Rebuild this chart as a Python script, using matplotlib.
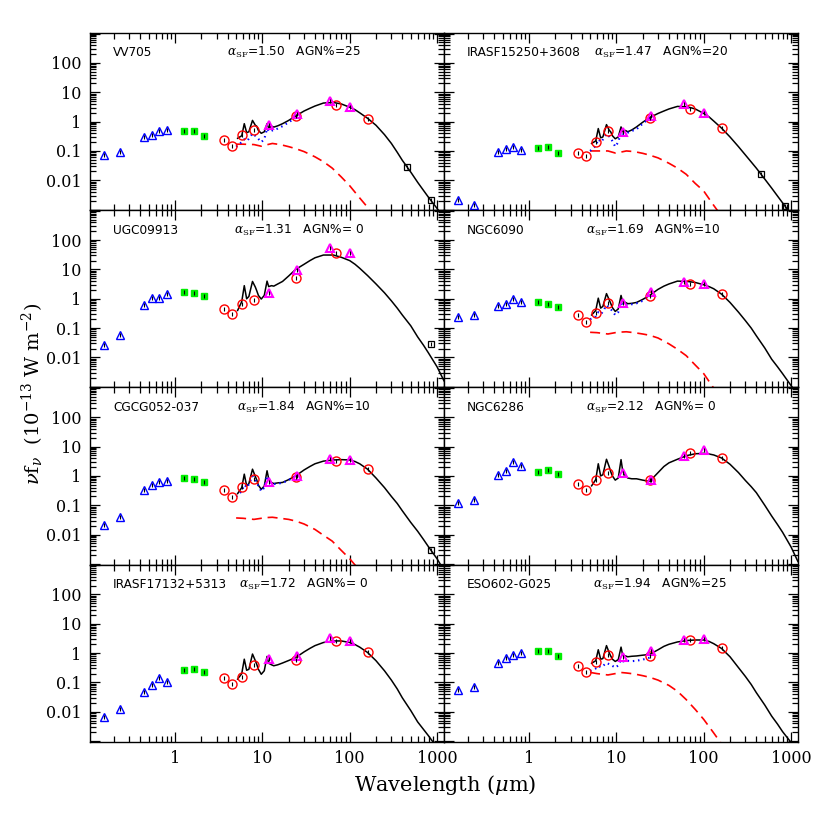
import numpy as np
import matplotlib
matplotlib.use('Agg')
import matplotlib.pyplot as plt
from matplotlib.ticker import LogLocator, FuncFormatter, NullFormatter

plt.rcParams['font.family'] = 'DejaVu Serif'
plt.rcParams['mathtext.fontset'] = 'dejavuserif'

nan = np.nan

# panels, row by row (left, right)
galaxies = ['VV705', 'IRASF15250+3608', 'UGC09913', 'NGC6090',
            'CGCG052-037', 'NGC6286', 'IRASF17132+5313', 'ESO602-G025']
alpha_sf = ['1.50', '1.47', '1.31', '1.69', '1.84', '2.12', '1.72', '1.94']
agn_pct = ['25', '20', ' 0', '10', '10', ' 0', ' 0', '25']
alpha_xpos = [0.387, 0.425, 0.408, 0.40, 0.416, 0.40, 0.42, 0.42]

# photometric bands (micron)
wl_uvopt = [0.153, 0.231, 0.445, 0.551, 0.658, 0.806]
wl_nir = [1.25, 1.65, 2.17]
wl_spitzer = [3.6, 4.5, 5.8, 8.0, 24, 70, 160]
wl_iras = [12, 25, 60, 100]
wl_submm = [450, 850]

uvopt_flux = [
    [0.071, 0.093, 0.30, 0.36, 0.48, 0.50],
    [0.0021, 0.0014, 0.089, 0.115, 0.14, 0.105],
    [0.027, 0.059, 0.63, 1.07, 1.05, 1.45],
    [0.235, 0.28, 0.56, 0.64, 0.95, 0.77],
    [0.022, 0.039, 0.33, 0.48, 0.60, 0.69],
    [0.115, 0.148, 1.11, 1.48, 3.1, 2.1],
    [0.0068, 0.0126, 0.049, 0.082, 0.14, 0.104],
    [0.054, 0.072, 0.45, 0.66, 0.87, 0.98],
]
nir_flux = [
    [0.48, 0.48, 0.33],
    [0.13, 0.135, 0.085],
    [1.74, 1.60, 1.26],
    [0.75, 0.66, 0.52],
    [0.85, 0.80, 0.60],
    [1.38, 1.55, 1.20],
    [0.27, 0.28, 0.22],
    [1.20, 1.17, 0.79],
]
spitzer_flux = [
    [0.23, 0.148, 0.34, 0.50, 1.55, 3.8, 1.26],
    [0.085, 0.068, 0.20, 0.48, 1.37, 2.6, 0.60],
    [0.44, 0.30, 0.69, 0.93, 5.1, 35, nan],
    [0.28, 0.16, 0.33, 0.71, 1.23, 3.2, 1.44],
    [0.33, 0.19, 0.42, 0.81, 0.95, 3.3, 1.7],
    [0.55, 0.32, 0.71, 1.3, 0.72, 6.0, 4.2],
    [0.14, 0.091, 0.155, 0.39, 0.59, 2.6, 1.05],
    [0.36, 0.23, 0.50, 0.85, 0.77, 2.7, 1.44],
]
iras_flux = [
    [0.75, 1.78, 5.0, 3.1],
    [0.45, 1.6, 3.9, 1.95],
    [1.58, 9.8, 56, 37],
    [0.71, 1.7, 3.7, 3.3],
    [0.60, 1.0, 3.7, 3.5],
    [1.3, 0.75, 4.9, 7.8],
    [0.62, 0.80, 3.3, 2.5],
    [0.71, 1.2, 2.8, 3.0],
]
submm_flux = [
    [0.029, 0.0021],
    [0.017, 0.0013],
    [nan, 0.029],
    [nan, nan],
    [nan, 0.0031],
    [nan, nan],
    [nan, nan],
    [nan, nan],
]

# best-fit total model
wl_model = [5.2, 5.8, 6.2, 6.6, 7.0, 7.7, 8.3, 8.6, 9.0, 9.7, 10.5, 11.3,
            11.8, 12.7, 13.5, 15, 17, 20, 24, 30, 35, 40, 50, 65, 80, 100,
            115, 130, 160, 200, 250, 300, 350, 400, 500, 600, 700, 800,
            1000, 1200]
model_total = [
    [0.27, 0.33, 0.85, 0.42, 0.45, 1.1, 0.75, 0.7, 0.5, 0.4, 0.45, 0.85,
     0.6, 0.7, 0.65, 0.72, 0.85, 1.1, 1.55, 2.3, 2.85, 3.4, 4.3, 4.5, 4.0, 3.1,
     2.55, 2.0, 1.3, 0.75, 0.36, 0.18, 0.09, 0.048, 0.019, 0.0085, 0.0045,
     0.0026, 0.0011, 0.0005],
    [0.18, 0.22, 0.58, 0.28, 0.3, 0.79, 0.5, 0.45, 0.33, 0.26, 0.3, 0.66,
     0.45, 0.5, 0.45, 0.52, 0.66, 0.95, 1.37, 1.9, 2.3, 2.7, 3.3, 3.2, 2.7, 1.9,
     1.45, 1.05, 0.6, 0.3, 0.14, 0.073, 0.042, 0.026, 0.011, 0.0054, 0.0029,
     0.0017, 0.0007, 0.0003],
    [0.4, 0.8, 2.8, 1.0, 1.2, 3.9, 2.5, 1.9, 1.3, 0.98, 1.3, 4.0,
     2.6, 2.8, 2.7, 3.2, 3.9, 6.0, 10, 15, 20, 25, 31, 31, 26, 20,
     15, 11, 6.2, 3.2, 1.6, 0.85, 0.48, 0.28, 0.12, 0.05, 0.026,
     0.014, 0.0048, 0.0016],
    [0.28, 0.4, 1.05, 0.48, 0.55, 1.5, 0.9, 0.7, 0.5, 0.37, 0.45, 1.3,
     0.8, 0.75, 0.68, 0.7, 0.75, 0.95, 1.3, 2.1, 2.7, 3.2, 4.0, 3.9, 3.6, 3.0,
     2.6, 2.2, 1.44, 0.75, 0.35, 0.18, 0.1, 0.055, 0.021, 0.0087, 0.0048,
     0.0028, 0.0011, 0.0005],
    [0.25, 0.4, 1.15, 0.46, 0.55, 1.7, 0.95, 0.74, 0.48, 0.35, 0.45, 1.5,
     0.8, 0.6, 0.55, 0.58, 0.6, 0.75, 1.0, 1.6, 2.1, 2.6, 3.2, 3.5, 3.6, 3.5,
     3.1, 2.6, 1.7, 0.85, 0.4, 0.2, 0.115, 0.065, 0.026, 0.013, 0.0068,
     0.0038, 0.0015, 0.0006],
    [0.46, 0.75, 2.6, 1.0, 1.1, 3.7, 2.0, 1.4, 1.0, 0.72, 0.85, 3.6,
     1.5, 1.0, 0.85, 0.8, 0.8, 0.72, 0.65, 1.3, 2.1, 2.8, 3.7, 5.0, 5.7, 5.9,
     5.6, 5.2, 4.1, 2.5, 1.3, 0.7, 0.43, 0.27, 0.1, 0.043, 0.022,
     0.012, 0.0038, 0.0012],
    [0.13, 0.2, 0.62, 0.26, 0.28, 0.93, 0.55, 0.42, 0.28, 0.19, 0.25, 0.77,
     0.45, 0.4, 0.37, 0.4, 0.46, 0.56, 0.7, 1.1, 1.45, 1.8, 2.3, 2.6, 2.6, 2.3,
     1.95, 1.6, 1.05, 0.55, 0.25, 0.12, 0.06, 0.03, 0.011, 0.0045, 0.0025,
     0.0015, 0.0006, 0.0002],
    [0.45, 0.55, 1.3, 0.62, 0.65, 1.8, 1.0, 0.8, 0.62, 0.52, 0.6, 1.6,
     0.85, 0.8, 0.75, 0.78, 0.8, 0.85, 0.9, 1.3, 1.7, 2.0, 2.4, 2.7, 2.8, 2.8,
     2.5, 2.1, 1.44, 0.75, 0.32, 0.16, 0.085, 0.045, 0.017, 0.0071, 0.0038,
     0.0021, 0.0009, 0.0004],
]

# AGN component (red dashed), None where AGN% = 0
wl_agn = [5.0, 6, 8, 9.7, 11, 13, 16, 20, 24, 30, 40, 50, 63, 80, 100,
          130, 160, 200]
model_agn = [
    [0.17, 0.17, 0.165, 0.145, 0.16, 0.18, 0.165, 0.14, 0.12, 0.095, 0.063,
     0.043, 0.026, 0.013, 0.0065, 0.0025, 0.0012, 0.0004],
    [0.1, 0.1, 0.1, 0.085, 0.09, 0.1, 0.095, 0.083, 0.072, 0.058, 0.038,
     0.026, 0.016, 0.0078, 0.0043, 0.0014, 0.0006, 0.0002],
    None,
    [0.072, 0.07, 0.063, 0.07, 0.073, 0.075, 0.07, 0.063, 0.057, 0.046, 0.029,
     0.019, 0.0115, 0.0055, 0.0028, 0.0009, 0.0004, 0.0001],
    [0.037, 0.036, 0.033, 0.036, 0.038, 0.039, 0.036, 0.033, 0.029, 0.023,
     0.015, 0.0095, 0.006, 0.0029, 0.0015, 0.0006, 0.0003, 0.0001],
    None,
    None,
    [0.22, 0.2, 0.18, 0.2, 0.22, 0.21, 0.195, 0.17, 0.15, 0.12, 0.079,
     0.05, 0.026, 0.012, 0.0055, 0.0019, 0.0008, 0.0002],
]

# star-forming component (blue dotted)
wl_sf = [5.0, 5.8, 6.2, 6.7, 7.7, 8.6, 9.7, 10.5, 11.3, 12.0, 13.0, 15, 17,
         20, 24]
model_sf = [
    [0.14, 0.2, 0.25, 0.22, 0.39, 0.3, 0.2, 0.25, 0.58, 0.45, 0.5, 0.58,
     0.7, 0.95, 1.35],
    [0.1, 0.15, 0.25, 0.2, 0.38, 0.28, 0.14, 0.2, 0.45, 0.38, 0.4, 0.48,
     0.55, 0.85, 1.3],
    None,
    [0.2, 0.25, 0.35, 0.3, 0.6, 0.45, 0.28, 0.35, 0.7, 0.6, 0.62, 0.65,
     0.7, 0.85, 1.25],
    [0.2, 0.3, 0.5, 0.4, 1.0, 0.6, 0.3, 0.4, 1.0, 0.6, 0.52, 0.55,
     0.58, 0.72, 1.0],
    None,
    None,
    [0.25, 0.3, 0.36, 0.33, 0.46, 0.4, 0.32, 0.38, 0.6, 0.52, 0.55, 0.53,
     0.55, 0.6, 0.7],
]

fig, axes = plt.subplots(4, 2, figsize=(8.3, 8.3), dpi=100,
                         sharex=True, sharey=True)
fig.subplots_adjust(left=0.1084, right=0.9614, top=0.9602, bottom=0.1064,
                    wspace=0, hspace=0)

lab = FuncFormatter(lambda v, p: ('%g' % v) if 0.005 < v < 5000 else '')
ylab = FuncFormatter(lambda v, p: ('%g' % v) if 0.005 < v < 500 else '')

for i, ax in enumerate(axes.flat):
    ax.set_xscale('log')
    ax.set_yscale('log')

    ax.plot(wl_model, model_total[i], color='black', lw=1.1, zorder=2)
    if model_agn[i] is not None:
        ax.plot(wl_agn, model_agn[i], color='red', lw=1.2, dashes=(6, 3.5),
                zorder=2)
        ax.plot(wl_sf, model_sf[i], color='blue', lw=1.5,
                linestyle=(0, (0.7, 1.8)), zorder=2)

    ax.plot(wl_uvopt, uvopt_flux[i], '^', ms=6, mfc='none', mec='blue',
            mew=1.0, zorder=3)
    ax.plot(wl_nir, nir_flux[i], 's', ms=4.5, mfc='#00ee00', mec='#00ee00',
            zorder=3)
    ax.plot(wl_spitzer, spitzer_flux[i], 'o', ms=6.5, mfc='none', mec='red',
            mew=1.0, zorder=3)
    ax.plot(wl_iras, iras_flux[i], '^', ms=5.5, mfc='none', mec='magenta',
            mew=1.5, zorder=3)
    ax.plot(wl_submm, submm_flux[i], 's', ms=4.5, mfc='none', mec='black',
            mew=0.9, zorder=3)
    # small error-bar dots inside the symbols
    for w, f in [(wl_uvopt, uvopt_flux[i]), (wl_nir, nir_flux[i]),
                 (wl_spitzer, spitzer_flux[i]), (wl_iras, iras_flux[i]),
                 (wl_submm, submm_flux[i])]:
        ax.plot(w, f, '|', ms=2.5, color='black', mew=0.8, zorder=4)

    ax.text(0.065, 0.888, galaxies[i], transform=ax.transAxes,
            fontsize=8.7, family='DejaVu Sans', va='center')
    ax.text(alpha_xpos[i], 0.888,
            r'$\alpha_{\rm SF}$=' + alpha_sf[i] + '   AGN%=' + agn_pct[i],
            transform=ax.transAxes, fontsize=8.7, family='DejaVu Sans',
            va='center')

    ax.set_xlim(0.106, 1200)
    ax.set_ylim(10**-3.02, 10**3.02)
    ax.xaxis.set_major_locator(LogLocator(base=10, numticks=20))
    ax.xaxis.set_minor_locator(LogLocator(base=10, subs=range(2, 10),
                                          numticks=40))
    ax.xaxis.set_major_formatter(lab)
    ax.xaxis.set_minor_formatter(NullFormatter())
    ax.yaxis.set_major_locator(LogLocator(base=10, numticks=20))
    ax.yaxis.set_minor_locator(LogLocator(base=10, subs=range(2, 10),
                                          numticks=40))
    ax.yaxis.set_major_formatter(ylab)
    ax.yaxis.set_minor_formatter(NullFormatter())
    ax.tick_params(which='both', direction='in', top=True, right=True,
                   labelsize=11.5, width=0.9)
    ax.tick_params(which='major', length=7.5, pad=6)
    ax.tick_params(which='minor', length=4)
    for s in ax.spines.values():
        s.set_linewidth(1.0)

fig.text(0.040, 0.525, r'$\nu$f$_\nu$  (10$^{-13}$ W m$^{-2}$)',
         rotation=90, fontsize=14, ha='center', va='center')
fig.text(0.536, 0.054, r'Wavelength ($\mu$m)', fontsize=15,
         ha='center', va='center')

fig.savefig('out.png', dpi=100)
